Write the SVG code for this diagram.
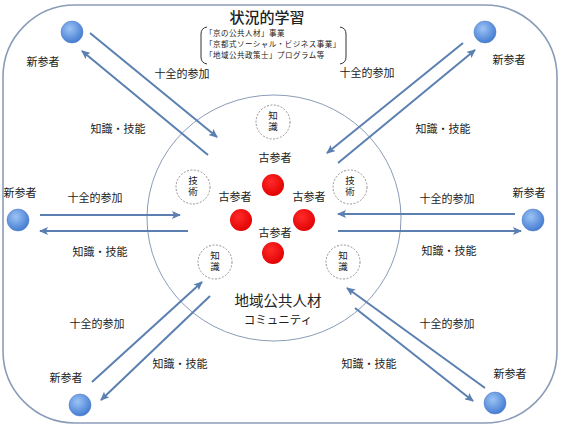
<svg xmlns="http://www.w3.org/2000/svg" width="562" height="435" viewBox="0 0 562 435">
<defs>
<radialGradient id="gBlue" cx="40%" cy="35%" r="70%">
<stop offset="0" stop-color="#9cc3f5"/>
<stop offset="1" stop-color="#3f78d0"/>
</radialGradient>
<radialGradient id="gRed" cx="40%" cy="35%" r="70%">
<stop offset="0" stop-color="#ff2a2a"/>
<stop offset="1" stop-color="#e00000"/>
</radialGradient>
<marker id="ah" viewBox="0 0 9 8" refX="8" refY="4" markerWidth="9" markerHeight="8" markerUnits="userSpaceOnUse" orient="auto">
<path d="M0,0 L9,4 L0,8 L2,4 z" fill="#5a7fb0"/>
</marker>
<style>
text{font-family:"Noto Sans CJK JP","Noto Sans",sans-serif;fill:#222;}
.lbl{font-size:11px;text-anchor:middle;}
.sm{font-size:9.5px;text-anchor:middle;writing-mode:vertical-rl;letter-spacing:1.5px;}
.br{font-size:7.5px;letter-spacing:0.5px;}
.arr{stroke:#5a7fb0;stroke-width:2;fill:none;marker-end:url(#ah);}
.bub{fill:#fff;stroke:#888;stroke-width:0.9;stroke-dasharray:2 1.5;}
.new{fill:url(#gBlue);stroke:#4a78c0;stroke-width:0.5;}
.old{fill:url(#gRed);}
</style>
</defs>
<rect id="frame" x="3" y="5" width="554" height="418" rx="72" ry="72" fill="#fff" stroke="#8a9cb8" stroke-width="1.6"/>
<g id="title">
<text x="267" y="23" style="font-size:15px;text-anchor:middle;font-weight:500">状況的学習</text>
<path d="M207,27 Q201,28 201,34 L201,57 Q201,63 207,64" fill="none" stroke="#333" stroke-width="1"/>
<path d="M340,27 Q346,28 346,34 L346,57 Q346,63 340,64" fill="none" stroke="#333" stroke-width="1"/>
<text class="br" x="205" y="36.3">「京の公共人材」事業</text>
<text class="br" x="205" y="47.3">「京都式ソーシャル・ビジネス事業」</text>
<text class="br" x="205" y="58.3">「地域公共政策士」プログラム等</text>
</g>
<g id="community">
<ellipse cx="274" cy="218" rx="127" ry="123" fill="none" stroke="#8a9cb8" stroke-width="1"/>
<text x="278" y="306" style="font-size:14.5px;text-anchor:middle">地域公共人材</text>
<text x="278" y="323.5" style="font-size:11.5px;text-anchor:middle">コミュニティ</text>
</g>
<g id="bubbles">
<g id="bub-top"><circle class="bub" cx="273" cy="122" r="17"/><text class="sm" x="273" y="122">知識</text></g>
<g id="bub-left"><circle class="bub" cx="193" cy="187" r="17"/><text class="sm" x="193" y="187">技術</text></g>
<g id="bub-right"><circle class="bub" cx="350" cy="187" r="17"/><text class="sm" x="350" y="187">技術</text></g>
<g id="bub-bl"><circle class="bub" cx="215" cy="262" r="17"/><text class="sm" x="215" y="262">知識</text></g>
<g id="bub-br"><circle class="bub" cx="343" cy="262" r="17"/><text class="sm" x="343" y="262">知識</text></g>
</g>
<g id="oldtimers">
<g id="old-top"><circle class="old" cx="273" cy="185" r="11"/><text class="lbl" x="275" y="162">古参者</text></g>
<g id="old-left"><circle class="old" cx="241" cy="220" r="11"/><text class="lbl" x="235" y="201">古参者</text></g>
<g id="old-right"><circle class="old" cx="304" cy="220" r="11"/><text class="lbl" x="309" y="201">古参者</text></g>
<g id="old-bottom"><circle class="old" cx="273" cy="253" r="11"/><text class="lbl" x="275" y="237">古参者</text></g>
</g>
<g id="newcomers">
<g id="new-tl"><circle class="new" cx="72" cy="32" r="11"/><text class="lbl" x="43" y="66">新参者</text></g>
<g id="new-tr"><circle class="new" cx="485" cy="32" r="11"/><text class="lbl" x="509" y="64">新参者</text></g>
<g id="new-l"><circle class="new" cx="18" cy="220" r="11"/><text class="lbl" x="20" y="197">新参者</text></g>
<g id="new-r"><circle class="new" cx="533" cy="220" r="11"/><text class="lbl" x="529" y="197">新参者</text></g>
<g id="new-bl"><circle class="new" cx="80" cy="405" r="11"/><text class="lbl" x="66" y="382">新参者</text></g>
<g id="new-br"><circle class="new" cx="495" cy="403" r="11"/><text class="lbl" x="510" y="378">新参者</text></g>
</g>
<g id="connectors">
<line class="arr" x1="90" y1="33" x2="217" y2="137"/>
<line class="arr" x1="208" y1="155" x2="82" y2="51"/>
<line class="arr" x1="463" y1="43" x2="327" y2="153"/>
<line class="arr" x1="338" y1="163" x2="475" y2="50"/>
<line class="arr" x1="40" y1="215" x2="180" y2="215"/>
<line class="arr" x1="188" y1="231" x2="40" y2="231"/>
<line class="arr" x1="515" y1="214" x2="338" y2="214"/>
<line class="arr" x1="338" y1="231" x2="521" y2="231"/>
<line class="arr" x1="92" y1="382" x2="202" y2="282"/>
<line class="arr" x1="210" y1="296" x2="101" y2="400"/>
<line class="arr" x1="485" y1="388" x2="347" y2="288"/>
<line class="arr" x1="355" y1="308" x2="473" y2="401"/>
</g>
<g id="connector-labels">
<text class="lbl" x="182" y="78">十全的参加</text>
<text class="lbl" x="118" y="133">知識・技能</text>
<text class="lbl" x="367" y="77">十全的参加</text>
<text class="lbl" x="443" y="133">知識・技能</text>
<text class="lbl" x="95" y="202">十全的参加</text>
<text class="lbl" x="100" y="256">知識・技能</text>
<text class="lbl" x="447" y="203">十全的参加</text>
<text class="lbl" x="449" y="255">知識・技能</text>
<text class="lbl" x="97" y="328">十全的参加</text>
<text class="lbl" x="180" y="368">知識・技能</text>
<text class="lbl" x="447" y="328">十全的参加</text>
<text class="lbl" x="369" y="368">知識・技能</text>
</g>
</svg>
